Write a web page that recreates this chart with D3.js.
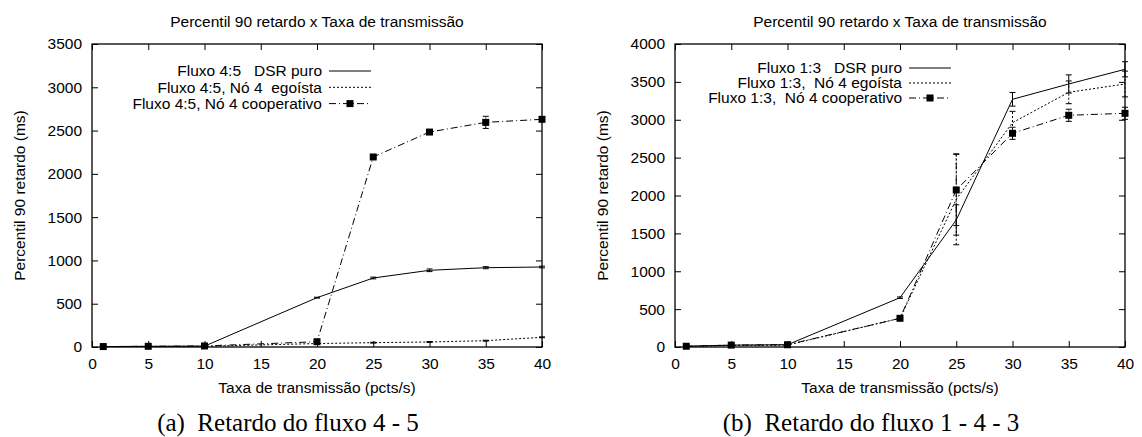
<!DOCTYPE html>
<html>
<head>
<meta charset="utf-8">
<script src="https://cdn.jsdelivr.net/npm/d3@7"></script>
<style>
  body { margin: 0; background: #fff; }
  text { font-family: "Liberation Sans", Arial, sans-serif; white-space: pre; }
</style>
</head>
<body>
<div class="canvas"></div>
<script>
// Shared x values (packet rate)
const rates = [1, 5, 10, 20, 25, 30, 35, 40];
const xTicks = [0, 5, 10, 15, 20, 25, 30, 35, 40];

// Panel (a): flow 4 - 5
const dsrA = [5, 8, 10, 570, 797, 886, 916, 924];
const dsrAErr = [2, 2, 2, 5, 10, 15, 12, 10];
const egoA = [5, 6, 8, 40, 50, 58, 73, 112];
const egoAErr = [1, 1, 1, 5, 5, 5, 5, 5];
const coopA = [5, 8, 12, 61, 2195, 2483, 2595, 2630];
const coopAErr = [3, 3, 3, 10, 15, 20, 70, 20];
const legendA = ['Fluxo 4:5   DSR puro', 'Fluxo 4:5, Nó 4  egoísta', 'Fluxo 4:5, Nó 4 cooperativo'];

// Panel (b): flow 1 - 4 - 3
const dsrB = [10, 25, 30, 651, 1677, 3270, 3472, 3666];
const dsrBErr = [3, 5, 5, 10, 200, 90, 120, 100];
const egoB = [8, 20, 25, 379, 1950, 2961, 3362, 3472];
const egoBErr = [2, 4, 4, 20, 600, 150, 150, 170];
const coopB = [10, 25, 30, 379, 2073, 2821, 3059, 3085];
const coopBErr = [2, 4, 4, 15, 470, 80, 80, 80];
const legendB = ['Fluxo 1:3   DSR puro', 'Fluxo 1:3,  Nó 4 egoísta', 'Fluxo 1:3,  Nó 4 cooperativo'];

const title = 'Percentil 90 retardo x Taxa de transmissão';
const xLabel = 'Taxa de transmissão (pcts/s)';
const yLabel = 'Percentil 90 retardo (ms)';

// Dimensions
const dims = { width: 1142, height: 437, plotW: 450, plotH: 303, top: 44, font: '15.5px' };

const svg = d3.select('.canvas')
    .append('svg')
    .attr('width', dims.width)
    .attr('height', dims.height);

const styles = [
    { dash: null },
    { dash: '2,2' },
    { dash: '7,3,1,3', marker: true }
];

const drawPanel = (left, yMax, yStep, series, legend, legendPos, caption, captionX) => {
    const g = svg.append('g').attr('transform', `translate(${left}, ${dims.top})`);

    const x = d3.scaleLinear().domain([0, 40]).range([0, dims.plotW]);
    const y = d3.scaleLinear().domain([0, yMax]).range([dims.plotH, 0]);
    const yTicks = d3.range(0, yMax + 1, yStep);

    // Axes with inward ticks, mirrored
    const axes = [
        { axis: d3.axisBottom(x).tickValues(xTicks).tickSize(-6).tickPadding(11).tickFormat(d3.format('d')), t: `translate(0, ${dims.plotH})` },
        { axis: d3.axisTop(x).tickValues(xTicks).tickSize(-6).tickFormat(''), t: 'translate(0, 0)' },
        { axis: d3.axisLeft(y).tickValues(yTicks).tickSize(-6).tickPadding(10).tickFormat(d3.format('d')), t: 'translate(0, 0)' },
        { axis: d3.axisRight(y).tickValues(yTicks).tickSize(-6).tickFormat(''), t: `translate(${dims.plotW}, 0)` }
    ];
    axes.forEach(a => {
        const ag = g.append('g').attr('transform', a.t).call(a.axis);
        ag.select('.domain').remove();
        ag.selectAll('line').attr('stroke', '#000').attr('stroke-width', 1);
        ag.selectAll('text')
            .attr('fill', '#000')
            .style('font-size', dims.font)
            .style('font-family', '"Liberation Sans", Arial, sans-serif');
    });

    // Frame
    g.append('rect')
        .attr('width', dims.plotW)
        .attr('height', dims.plotH)
        .attr('fill', 'none')
        .attr('stroke', '#000')
        .attr('stroke-width', 1.3);

    const line = d3.line().x(d => x(d.x)).y(d => y(d.y));

    series.forEach((s, i) => {
        const pts = rates.map((r, k) => ({ x: r, y: s.values[k], e: s.err[k] }));
        const st = styles[i];

        // Error bars
        const eb = g.append('g');
        pts.forEach(p => {
            eb.append('line')
                .attr('x1', x(p.x)).attr('x2', x(p.x))
                .attr('y1', y(p.y - p.e)).attr('y2', y(p.y + p.e))
                .attr('stroke', '#000').attr('stroke-width', 1)
                .attr('stroke-dasharray', st.dash);
            [p.y - p.e, p.y + p.e].forEach(v => {
                eb.append('line')
                    .attr('x1', x(p.x) - 3).attr('x2', x(p.x) + 3)
                    .attr('y1', y(v)).attr('y2', y(v))
                    .attr('stroke', '#000').attr('stroke-width', 1);
            });
        });

        g.append('path')
            .datum(pts)
            .attr('d', line)
            .attr('fill', 'none')
            .attr('stroke', '#000')
            .attr('stroke-width', 1)
            .attr('stroke-dasharray', st.dash);

        if (st.marker) {
            g.selectAll(null)
                .data(pts)
                .enter()
                .append('rect')
                    .attr('x', d => x(d.x) - 3.5)
                    .attr('y', d => y(d.y) - 3.5)
                    .attr('width', 7)
                    .attr('height', 7)
                    .attr('fill', '#000');
        }

        // Legend entry
        const ly = legendPos.y + i * legendPos.gap;
        g.append('text')
            .attr('x', legendPos.textX)
            .attr('y', ly)
            .attr('dy', '0.35em')
            .attr('text-anchor', 'end')
            .style('font-size', dims.font)
            .text(legend[i]);
        g.append('line')
            .attr('x1', legendPos.textX + 7).attr('x2', legendPos.textX + 49)
            .attr('y1', ly).attr('y2', ly)
            .attr('stroke', '#000').attr('stroke-width', 1)
            .attr('stroke-dasharray', st.dash);
        if (st.marker) {
            g.append('rect')
                .attr('x', legendPos.textX + 28 - 3.5)
                .attr('y', ly - 3.5)
                .attr('width', 7).attr('height', 7)
                .attr('fill', '#000');
        }
    });

    // Title and axis labels
    g.append('text')
        .attr('x', dims.plotW / 2).attr('y', -17)
        .attr('text-anchor', 'middle')
        .style('font-size', dims.font)
        .text(title);
    g.append('text')
        .attr('x', dims.plotW / 2).attr('y', 393 - dims.top)
        .attr('text-anchor', 'middle')
        .style('font-size', dims.font)
        .text(xLabel);
    g.append('text')
        .attr('transform', `translate(-67, ${dims.plotH / 2}) rotate(-90)`)
        .attr('text-anchor', 'middle')
        .style('font-size', dims.font)
        .text(yLabel);

    // Caption
    svg.append('text')
        .attr('x', captionX).attr('y', 431)
        .attr('text-anchor', 'middle')
        .style('font-family', '"Liberation Serif", "Times New Roman", serif')
        .style('font-size', '25px')
        .text(caption);
};

drawPanel(92, 3500, 500,
    [{ values: dsrA, err: dsrAErr }, { values: egoA, err: egoAErr }, { values: coopA, err: coopAErr }],
    legendA, { textX: 230, y: 27, gap: 16.3 },
    '(a)  Retardo do fluxo 4 - 5', 288);

drawPanel(675, 4000, 500,
    [{ values: dsrB, err: dsrBErr }, { values: egoB, err: egoBErr }, { values: coopB, err: coopBErr }],
    legendB, { textX: 227, y: 24, gap: 15 },
    '(b)  Retardo do fluxo 1 - 4 - 3', 871);
</script>
</body>
</html>
